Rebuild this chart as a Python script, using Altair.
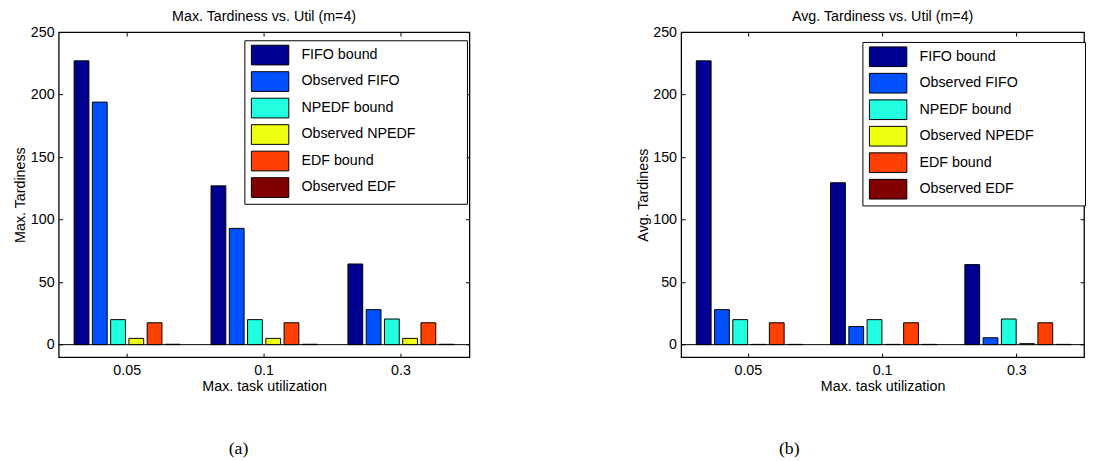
import altair as alt
import pandas as pd

categories = ["0.05", "0.1", "0.3"]
series = ["FIFO bound", "Observed FIFO", "NPEDF bound",
          "Observed NPEDF", "EDF bound", "Observed EDF"]
colors = ["#000090", "#0050FF", "#20FFDF", "#EFFF10", "#FF4000", "#800000"]
y_ticks = [0, 50, 100, 150, 200, 250]

# (a) Max. tardiness
max_fifo_bound = [227, 127, 64.5]
max_obs_fifo = [194, 93, 28]
max_npedf_bound = [20, 20, 20.5]
max_obs_npedf = [5, 5, 5]
max_edf_bound = [17.5, 17.5, 17.5]
max_obs_edf = [0.3, 0.3, 0.3]

# (b) Avg. tardiness
avg_fifo_bound = [227, 129.5, 64]
avg_obs_fifo = [28, 14.5, 5.5]
avg_npedf_bound = [20, 20, 20.5]
avg_obs_npedf = [0.2, 0.2, 0.8]
avg_edf_bound = [17.5, 17.5, 17.5]
avg_obs_edf = [0.2, 0.2, 0.2]

FONT = "Liberation Sans"
FS = 14.5


def make_df(cols):
    rows = []
    for s, vals in zip(series, cols):
        for c, v in zip(categories, vals):
            rows.append({"cat": c, "series": s, "value": v})
    return pd.DataFrame(rows)


def panel(df, title, ytitle, width, lx, ly):
    xs = alt.Scale(domain=categories, paddingInner=0.225, paddingOuter=0.1125)
    ys = alt.Scale(domain=[-10, 250], nice=False, zero=False)
    xo = alt.XOffset("series:N", sort=series,
                     scale=alt.Scale(domain=series, paddingInner=0.19, paddingOuter=0))
    g = dict(grid=True, gridDash=[4, 1000], gridColor="black", gridWidth=1,
             gridOpacity=1, ticks=False, domain=False)

    zero = alt.Chart(pd.DataFrame({"z": [0]})).mark_rule(
        color="black", strokeWidth=1
    ).encode(y=alt.Y("z:Q", scale=ys, axis=None))

    bars = alt.Chart(df).mark_bar(stroke="black", strokeWidth=1, opacity=1).encode(
        x=alt.X("cat:N", sort=categories, scale=xs,
                axis=alt.Axis(orient="bottom", title="Max. task utilization",
                              labelAngle=0, labelPadding=6.7, titlePadding=2.5,
                              bandPosition=0.5, **g)),
        xOffset=xo,
        y=alt.Y("value:Q", scale=ys,
                axis=alt.Axis(orient="left", title=ytitle, values=y_ticks,
                              labelPadding=4.7, titlePadding=2.5, **g)),
        y2=alt.Y2Datum(0),
        color=alt.Color("series:N", sort=series,
                        scale=alt.Scale(domain=series, range=colors),
                        legend=alt.Legend(
                            title=".", titleOrient="right", titleColor="white",
                            titlePadding=43, titleFontSize=FS,
                            orient="none", legendX=lx, legendY=ly,
                            symbolType="M-1.9,-1H1.9V1H-1.9Z", symbolSize=400,
                            symbolStrokeColor="black", symbolStrokeWidth=1,
                            symbolOpacity=1, symbolOffset=11.1, labelOffset=21.3,
                            rowPadding=1.9, padding=4.5, strokeColor="black",
                            fillColor="white", labelFont=FONT, labelFontSize=FS,
                            labelColor="black", labelLimit=0)),
    )

    mirror = alt.Chart(df).mark_bar(opacity=0).encode(
        x=alt.X("cat:N", sort=categories, scale=xs,
                axis=alt.Axis(orient="top", labels=False, title=None,
                              bandPosition=0.5, **g)),
        xOffset=xo,
        y=alt.Y("value:Q", scale=ys,
                axis=alt.Axis(orient="right", labels=False, title=None,
                              values=y_ticks, **g)),
    )

    return alt.layer(zero, bars, mirror).resolve_axis(
        x="independent", y="independent"
    ).properties(
        width=width, height=330,
        title=alt.Title(title, font=FONT, fontSize=FS, fontWeight="normal",
                        color="black", offset=0),
    )


df_a = make_df([max_fifo_bound, max_obs_fifo, max_npedf_bound,
                max_obs_npedf, max_edf_bound, max_obs_edf])
df_b = make_df([avg_fifo_bound, avg_obs_fifo, avg_npedf_bound,
                avg_obs_npedf, avg_edf_bound, avg_obs_edf])

pa = panel(df_a, "Max. Tardiness vs. Util (m=4)", "Max. Tardiness", 417, 188.5, 8.3)
pb = panel(df_b, "Avg. Tardiness vs. Util (m=4)", "Avg. Tardiness", 409, 184, 10)

cap = dict(orient="bottom", anchor="middle", font="Liberation Serif",
           fontSize=18, fontWeight="normal", color="black", offset=48)
wa = alt.vconcat(pa, title=alt.Title("(a)", dx=-3, **cap))
wb = alt.vconcat(pb, title=alt.Title("(b)", dx=-72, **cap))

chart = alt.hconcat(wa, wb, spacing=165).properties(
    padding={"left": 3.5, "top": -4, "right": 0, "bottom": 0}
).configure_axis(
    labelFont=FONT, labelFontSize=FS, labelColor="black",
    titleFont=FONT, titleFontSize=FS, titleFontWeight="normal", titleColor="black",
).configure_view(stroke="black", strokeWidth=1.3).resolve_legend(color="independent")

chart.save("out.html", embed_options={"renderer": "svg", "actions": False})
